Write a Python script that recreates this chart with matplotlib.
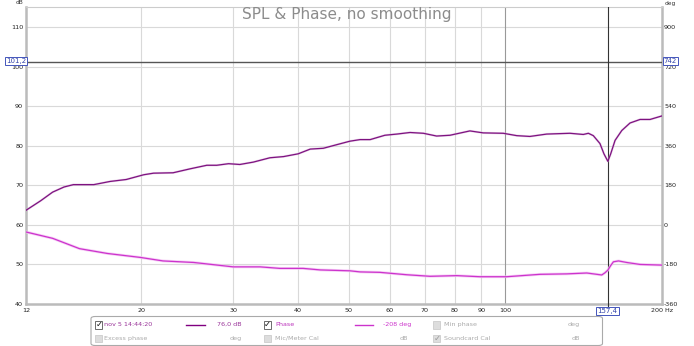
import matplotlib
matplotlib.use("Agg")
import matplotlib.pyplot as plt
from matplotlib.patches import FancyBboxPatch, Rectangle
from matplotlib.lines import Line2D
import numpy as np

plt.rcParams["axes.unicode_minus"] = False

W, H = 694, 346

# SPL trace (Hz, dB)
spl_freq = [12.0, 12.8, 13.5, 14.2, 14.8, 16.2, 17.4, 18.7, 20.2, 21.1, 23.0,
            24.8, 26.7, 27.9, 29.4, 30.9, 32.8, 35.3, 37.5, 40.0, 42.2, 44.7,
            47.4, 50.3, 52.6, 55.0, 58.7, 61.9, 65.6, 69.6, 73.8, 78.3, 85.5,
            90.7, 99.1, 105.2, 111.5, 120.1, 133.1, 141.2, 144.4, 147.6, 152.0,
            154.7, 157.4, 159.4, 162.5, 167.4, 173.6, 181.5, 189.7, 200.0]
spl_db = [63.6, 66.0, 68.2, 69.5, 70.1, 70.1, 70.9, 71.4, 72.6, 73.0, 73.1,
          74.1, 75.0, 75.0, 75.4, 75.2, 75.8, 76.9, 77.2, 77.9, 79.1, 79.3,
          80.2, 81.1, 81.5, 81.5, 82.6, 82.9, 83.3, 83.1, 82.4, 82.6, 83.7,
          83.2, 83.1, 82.5, 82.3, 82.9, 83.1, 82.8, 83.1, 82.5, 80.5,
          77.9, 76.0, 77.9, 81.3, 83.8, 85.7, 86.6, 86.6, 87.5]

# Phase trace (Hz, deg)
ph_freq = [12.0, 13.5, 15.2, 17.2, 19.9, 22.0, 25.2, 30.0, 33.8, 36.9, 40.9,
           44.1, 50.3, 52.6, 57.4, 64.7, 71.7, 80.7, 89.4, 100.6, 116.6, 131.2,
           143.4, 153.2, 155.4, 157.4, 159.3, 161.3, 165.0, 171.1, 181.5, 200.0]
ph_deg = [-34, -63, -110, -132, -150, -166, -173, -193, -193, -200, -200,
          -207, -211, -216, -218, -229, -236, -233, -238, -238, -227, -225,
          -221, -230, -220, -208, -188, -170, -166, -173, -182, -185]

db_ticks = [40, 50, 60, 70, 80, 90, 100, 110]
deg_ticks = [-360, -180, 0, 180, 360, 540, 720, 900]
freq_ticks = [12, 20, 30, 40, 50, 60, 70, 80, 90, 100, 200]
freq_labels = ["12", "20", "30", "40", "50", "60", "70", "80", "90", "100", "200 Hz"]

cursor_db = 101.2
cursor_hz = 157.4

SPL_COL = "#7E1280"
PH_COL = "#CC33CC"
GRID = "#D9D9D9"
FS = 4.6


def fx(x):
    return x / W


def fy(y):
    return 1 - y / H


fig = plt.figure(figsize=(W / 100, H / 100), dpi=100)
fig.patch.set_facecolor("white")

ax = fig.add_axes([fx(26), fy(303.5), fx(662) - fx(26), fy(7.3) - fy(303.5)])
ax.set_xscale("log")
ax.set_xlim(12, 200)
ax.set_ylim(40, 115)
ax.set_yticks(db_ticks)
ax.set_xticks(freq_ticks)
ax.set_xticklabels(freq_labels)
ax.xaxis.set_minor_locator(matplotlib.ticker.NullLocator())
ax.tick_params(axis="both", length=0, labelsize=FS, colors="#222222")
ax.tick_params(axis="x", pad=3.5)
ax.tick_params(axis="y", pad=2)

# grid
for v in db_ticks:
    ax.axhline(v, color=GRID, lw=0.8, zorder=0)
for f in freq_ticks[1:-1]:
    ax.axvline(f, color="#999999" if f == 100 else GRID, lw=0.8, zorder=0)

for side in ["left", "bottom", "right"]:
    ax.spines[side].set_color("#BBBBBB")
    ax.spines[side].set_linewidth(1.8)
ax.spines["top"].set_color("#CCCCCC")
ax.spines["top"].set_linewidth(0.8)

ax2 = ax.twinx()
ax2.set_ylim(-360, 990)
ax2.set_yticks(deg_ticks)
ax2.tick_params(axis="y", length=0, labelsize=FS, pad=1.5, colors="#222222")
for s in ax2.spines.values():
    s.set_visible(False)

# cursors
ax.axhline(cursor_db, color="#555555", lw=1.0, zorder=3)
ax.axvline(cursor_hz, color="#333333", lw=0.8, zorder=3)

# traces
ax.plot(spl_freq, spl_db, color="#D2A6D4", lw=1.6, alpha=0.5, zorder=4)
ax.plot(spl_freq, spl_db, color=SPL_COL, lw=0.9, zorder=5)
ax2.plot(ph_freq, ph_deg, color="#F4C2F4", lw=2.0, alpha=0.8, zorder=4)
ax2.plot(ph_freq, ph_deg, color=PH_COL, lw=0.9, zorder=5)

# title and axis units
fig.text(fx(347), fy(14), "SPL & Phase, no smoothing", ha="center", va="center",
         fontsize=11, color="#8C8C8C")
fig.text(fx(19), fy(3), "dB", ha="center", va="center", fontsize=4.2, color="#333333")
fig.text(fx(670), fy(4), "deg", ha="center", va="center", fontsize=4.2, color="#333333")

# cursor readout boxes
box = dict(boxstyle="square,pad=0.15", fc="white", ec="#4455BB", lw=0.7)
fig.text(fx(16), fy(61), "101,2", ha="center", va="center", fontsize=FS + 0.4,
         color="#3344AA", bbox=box)
fig.text(fx(670.5), fy(61), "742", ha="center", va="center", fontsize=FS + 0.4,
         color="#3344AA", bbox=box)
fig.add_artist(Line2D([fx(608), fx(608)], [fy(303.5), fy(306)], color="#333333", lw=0.8))
fig.text(fx(607.5), fy(311), "157,4", ha="center", va="center", fontsize=FS + 0.4,
         color="#3344AA", bbox=box)

# legend panel
fig.add_artist(FancyBboxPatch((fx(91), fy(345.5)), fx(602.5) - fx(91), fy(316.5) - fy(345.5),
                              boxstyle="round,pad=0,rounding_size=0.006",
                              fc="white", ec="#AAAAAA", lw=0.8))


def checkbox(x, y, checked, active):
    ec = "#555555" if active else "#CCCCCC"
    fc = "white" if active else "#DDDDDD"
    fig.add_artist(Rectangle((fx(x), fy(y + 3.8)), fx(7.5), fy(0) - fy(7.5),
                             fc=fc, ec=ec, lw=0.6))
    if checked:
        fig.text(fx(x + 3.9), fy(y), "\u2713", ha="center", va="center", fontsize=6,
                 color="#111111" if active else "#999999", fontweight="bold")


r1, r2 = 324.7, 338.3
checkbox(95, r1, True, True)
fig.text(fx(104), fy(r1), "nov 5 14:44:20", va="center", fontsize=FS, color="#993399")
fig.add_artist(Line2D([fx(186), fx(205)], [fy(r1), fy(r1)], color="#800080", lw=1.0))
fig.text(fx(242), fy(r1), "76,0 dB", ha="right", va="center", fontsize=FS, color="#993399")
checkbox(263.5, r1, True, True)
fig.text(fx(275), fy(r1), "Phase", va="center", fontsize=FS, color="#BB33BB")
fig.add_artist(Line2D([fx(355), fx(373)], [fy(r1), fy(r1)], color=PH_COL, lw=1.0))
fig.text(fx(411), fy(r1), "-208 deg", ha="right", va="center", fontsize=FS, color="#CC33CC")
checkbox(433, r1, False, False)
fig.text(fx(443.5), fy(r1), "Min phase", va="center", fontsize=FS, color="#AAAAAA")
fig.text(fx(580), fy(r1), "deg", ha="right", va="center", fontsize=FS, color="#AAAAAA")

checkbox(95, r2, False, False)
fig.text(fx(104), fy(r2), "Excess phase", va="center", fontsize=FS, color="#AAAAAA")
fig.text(fx(242), fy(r2), "deg", ha="right", va="center", fontsize=FS, color="#AAAAAA")
checkbox(263.5, r2, False, False)
fig.text(fx(275), fy(r2), "Mic/Meter Cal", va="center", fontsize=FS, color="#AAAAAA")
fig.text(fx(408), fy(r2), "dB", ha="right", va="center", fontsize=FS, color="#AAAAAA")
checkbox(433, r2, True, False)
fig.text(fx(443.5), fy(r2), "Soundcard Cal", va="center", fontsize=FS, color="#AAAAAA")
fig.text(fx(580), fy(r2), "dB", ha="right", va="center", fontsize=FS, color="#AAAAAA")

fig.savefig("out.png", dpi=100)
